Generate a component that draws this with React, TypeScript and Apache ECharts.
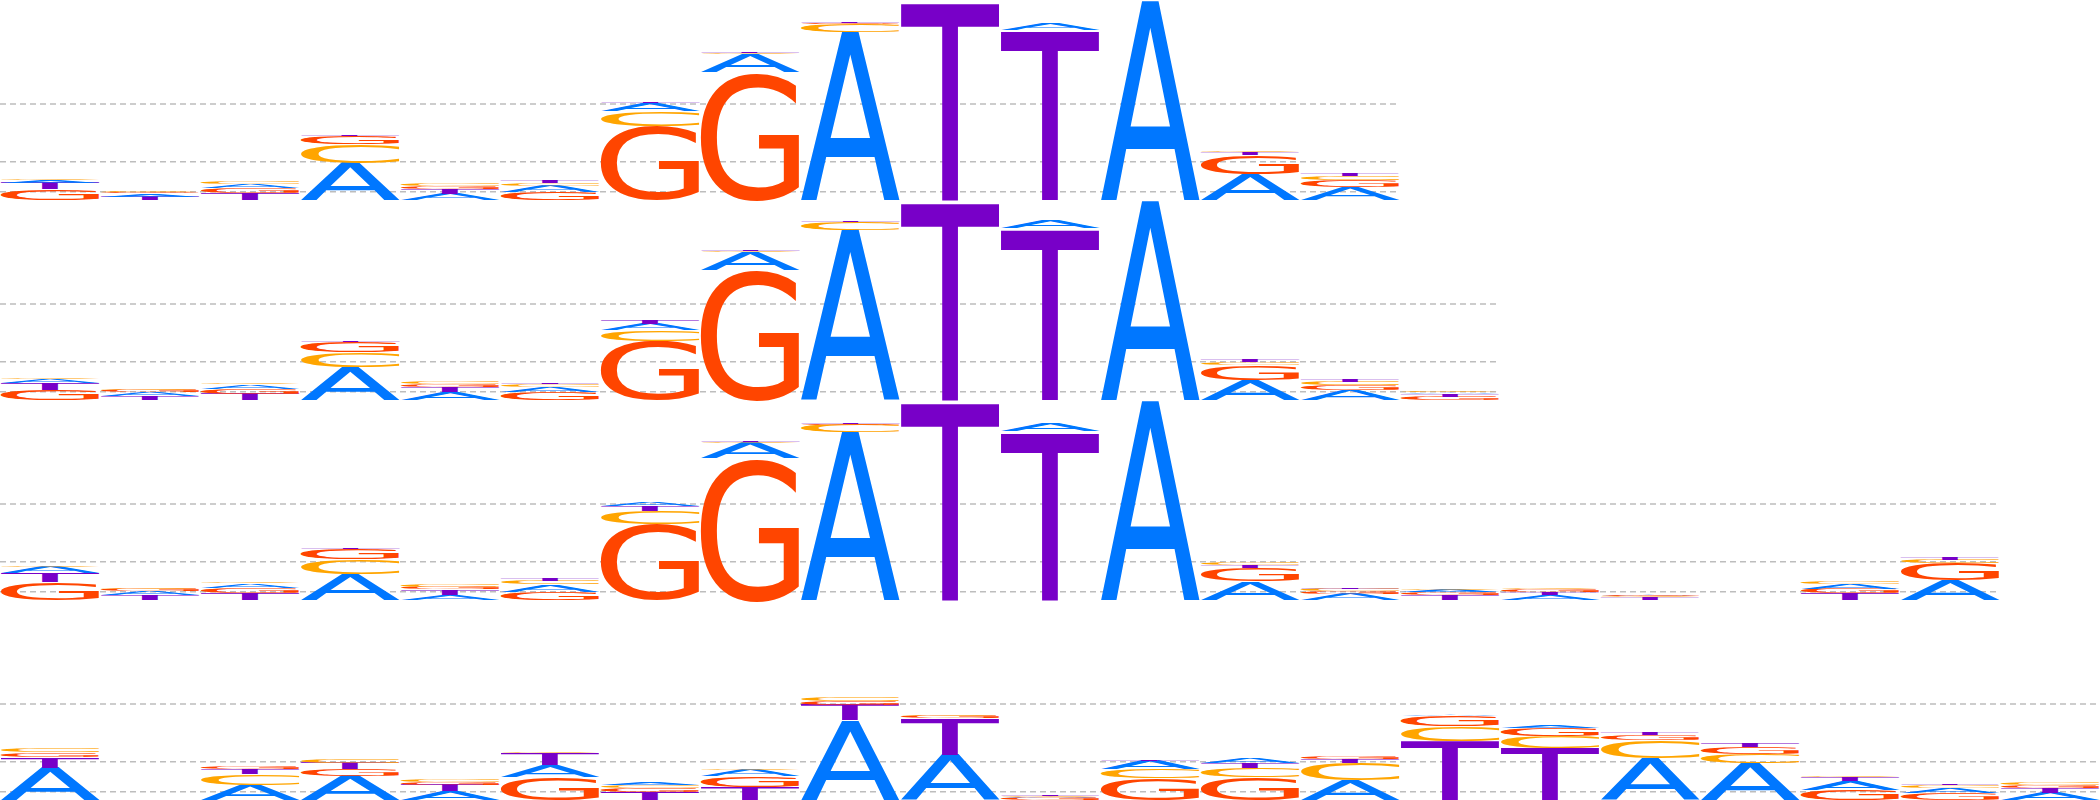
import React, { useEffect, useRef } from 'react';
import * as echarts from 'echarts';

// nucleotide order used by every data array below
const BASES = ['A', 'C', 'G', 'T'];
const BASE_COLORS = ['#0077ff', '#ffa500', '#ff4500', '#7800c8'];

// logo 1 (14 positions), heights in bits
const logo1A = [0.03, 0.03, 0.04, 0.37, 0.06, 0.06, 0.08, 0.18, 1.68, 0.004, 0.07, 1.99, 0.26, 0.13];
const logo1C = [0.015, 0.012, 0.02, 0.19, 0.02, 0.03, 0.15, 0.01, 0.08, 0.004, 0.004, 0.004, 0.015, 0.04];
const logo1G = [0.11, 0.015, 0.05, 0.08, 0.03, 0.08, 0.74, 1.28, 0.01, 0.004, 0.004, 0.004, 0.19, 0.07];
const logo1T = [0.06, 0.035, 0.07, 0.01, 0.05, 0.02, 0.005, 0.01, 0.01, 1.99, 1.7, 0.004, 0.025, 0.02];

// logo 2 (15 positions)
const logo2A = [0.035, 0.038, 0.04, 0.33, 0.08, 0.045, 0.06, 0.18, 1.7, 0.004, 0.075, 1.99, 0.2, 0.1, 0.015];
const logo2C = [0.015, 0.015, 0.015, 0.15, 0.025, 0.03, 0.11, 0.01, 0.075, 0.004, 0.004, 0.004, 0.027, 0.035, 0.012];
const logo2G = [0.1, 0.02, 0.055, 0.1, 0.03, 0.085, 0.59, 1.3, 0.005, 0.004, 0.004, 0.004, 0.15, 0.05, 0.035];
const logo2T = [0.07, 0.042, 0.06, 0.005, 0.05, 0.015, 0.04, 0.005, 0.005, 1.99, 1.72, 0.004, 0.024, 0.025, 0.025];

// logo 3 (20 positions)
const logo3A = [0.06, 0.035, 0.04, 0.26, 0.055, 0.07, 0.04, 0.15, 1.68, 0.004, 0.075, 1.99, 0.185, 0.06, 0.025, 0.05, 0.005, 0.002, 0.045, 0.2];
const logo3C = [0.015, 0.015, 0.015, 0.15, 0.02, 0.035, 0.13, 0.01, 0.075, 0.004, 0.004, 0.004, 0.025, 0.02, 0.015, 0.01, 0.015, 0.002, 0.02, 0.035];
const logo3G = [0.18, 0.02, 0.055, 0.1, 0.025, 0.085, 0.76, 1.42, 0.005, 0.004, 0.004, 0.004, 0.14, 0.03, 0.027, 0.025, 0.005, 0.002, 0.05, 0.17];
const logo3T = [0.09, 0.05, 0.07, 0.005, 0.05, 0.025, 0.05, 0.005, 0.005, 1.99, 1.69, 0.004, 0.028, 0.015, 0.05, 0.03, 0.025, 0.002, 0.065, 0.02];

// logo 4 (21 positions)
const logo4A = [0.32, 0.003, 0.15, 0.24, 0.09, 0.12, 0.02, 0.06, 0.8, 0.45, 0.01, 0.085, 0.045, 0.2, 0.01, 0.03, 0.42, 0.37, 0.09, 0.055, 0.075];
const logo4C = [0.04, 0.003, 0.11, 0.035, 0.02, 0.01, 0.03, 0.015, 0.035, 0.01, 0.01, 0.09, 0.09, 0.17, 0.15, 0.12, 0.18, 0.09, 0.015, 0.03, 0.02];
const logo4G = [0.045, 0.003, 0.02, 0.07, 0.03, 0.23, 0.035, 0.11, 0.04, 0.02, 0.02, 0.22, 0.23, 0.03, 0.1, 0.085, 0.05, 0.07, 0.1, 0.065, 0.025];
const logo4T = [0.11, 0.003, 0.05, 0.06, 0.06, 0.115, 0.08, 0.13, 0.15, 0.37, 0.008, 0.01, 0.05, 0.035, 0.59, 0.52, 0.02, 0.035, 0.035, 0.012, 0.045];

const LOGOS = [
  [logo1A, logo1C, logo1G, logo1T],
  [logo2A, logo2C, logo2G, logo2T],
  [logo3A, logo3C, logo3G, logo3T],
  [logo4A, logo4C, logo4G, logo4T],
];

// dashed guide levels (bits)
const GUIDE_LEVELS = [0.96, 0.383, 0.083];

const MAX_POSITIONS = 21;
const MAX_BITS = 2;
const ROW_HEIGHT = 200;
const FONT_FAMILY = 'DejaVu Sans';
const FONT_SIZE = 100;

type GlyphBox = { left: number; right: number; ascent: number; descent: number; base: number };

const measureGlyphs = (): GlyphBox[] => {
  const ctx = document.createElement('canvas').getContext('2d')!;
  ctx.font = `${FONT_SIZE}px "${FONT_FAMILY}"`;
  ctx.textAlign = 'center';
  ctx.textBaseline = 'alphabetic';
  return BASES.map((b) => {
    const m = ctx.measureText(b);
    return {
      left: m.actualBoundingBoxLeft,
      right: m.actualBoundingBoxRight,
      ascent: m.actualBoundingBoxAscent,
      descent: m.actualBoundingBoxDescent,
      // svg text is drawn with dominant-baseline: central
      base: (m.fontBoundingBoxAscent - m.fontBoundingBoxDescent) / 2,
    };
  });
};

const App: React.FC = () => {
  const chartRef = useRef<HTMLDivElement>(null);

  useEffect(() => {
    if (!chartRef.current) return;
    const chart = echarts.init(chartRef.current, null, { renderer: 'svg' });
    const glyphs = measureGlyphs();

    const renderItem = (params: any, api: any) => {
      const pos = api.value(0);
      const heights = [api.value(1), api.value(2), api.value(3), api.value(4)];
      // biggest letter at the bottom
      const order = [0, 1, 2, 3].sort((a, b) => heights[b] - heights[a]);
      let acc = 0;
      const children: any[] = [];
      order.forEach((k) => {
        const h = heights[k];
        const p0 = api.coord([pos, acc]);
        const p1 = api.coord([pos + 1, acc + h]);
        acc += h;
        const w = p1[0] - p0[0];
        const hh = p0[1] - p1[1];
        // sub-pixel letters are invisible, skip them
        if (hh < 0.5) return;
        const g = glyphs[k];
        const sx = w / (g.left + g.right);
        const sy = hh / (g.ascent + g.descent);
        children.push({
          type: 'text',
          x: p0[0] + g.left * sx,
          y: p1[1] - (g.base - g.ascent) * sy,
          scaleX: sx,
          scaleY: sy,
          silent: true,
          style: {
            text: BASES[k],
            x: 0,
            y: 0,
            fill: BASE_COLORS[k],
            fontFamily: FONT_FAMILY,
            fontSize: FONT_SIZE,
            fontWeight: 'normal',
            align: 'center',
            verticalAlign: 'middle',
          },
        });
      });
      return { type: 'group', children };
    };

    const grid = LOGOS.map((_, i) => ({ left: 0, top: i * ROW_HEIGHT, width: 2100, height: ROW_HEIGHT }));
    const xAxis = LOGOS.map((_, i) => ({ type: 'value', gridIndex: i, min: 0, max: MAX_POSITIONS, show: false }));
    const yAxis = LOGOS.map((_, i) => ({ type: 'value', gridIndex: i, min: 0, max: MAX_BITS, show: false }));

    const series: any[] = [];
    LOGOS.forEach((cols, i) => {
      const n = cols[0].length;
      GUIDE_LEVELS.forEach((v) => {
        series.push({
          type: 'line',
          xAxisIndex: i,
          yAxisIndex: i,
          data: [[0, v], [n, v]],
          showSymbol: false,
          silent: true,
          z: 1,
          lineStyle: { color: '#bdbdbd', width: 1.5, type: [6, 4] },
        });
      });
      series.push({
        type: 'custom',
        xAxisIndex: i,
        yAxisIndex: i,
        z: 2,
        clip: false,
        silent: true,
        renderItem,
        data: cols[0].map((_, p) => [p, cols[0][p], cols[1][p], cols[2][p], cols[3][p]]),
      });
    });

    chart.setOption({
      animation: false,
      backgroundColor: '#ffffff',
      grid,
      xAxis,
      yAxis,
      series,
    });

    return () => {
      chart.dispose();
    };
  }, []);

  return (
    <div
      ref={chartRef}
      style={{ position: 'absolute', left: 0, top: 0, width: '2100px', height: '800px' }}
    />
  );
};

export default App;
